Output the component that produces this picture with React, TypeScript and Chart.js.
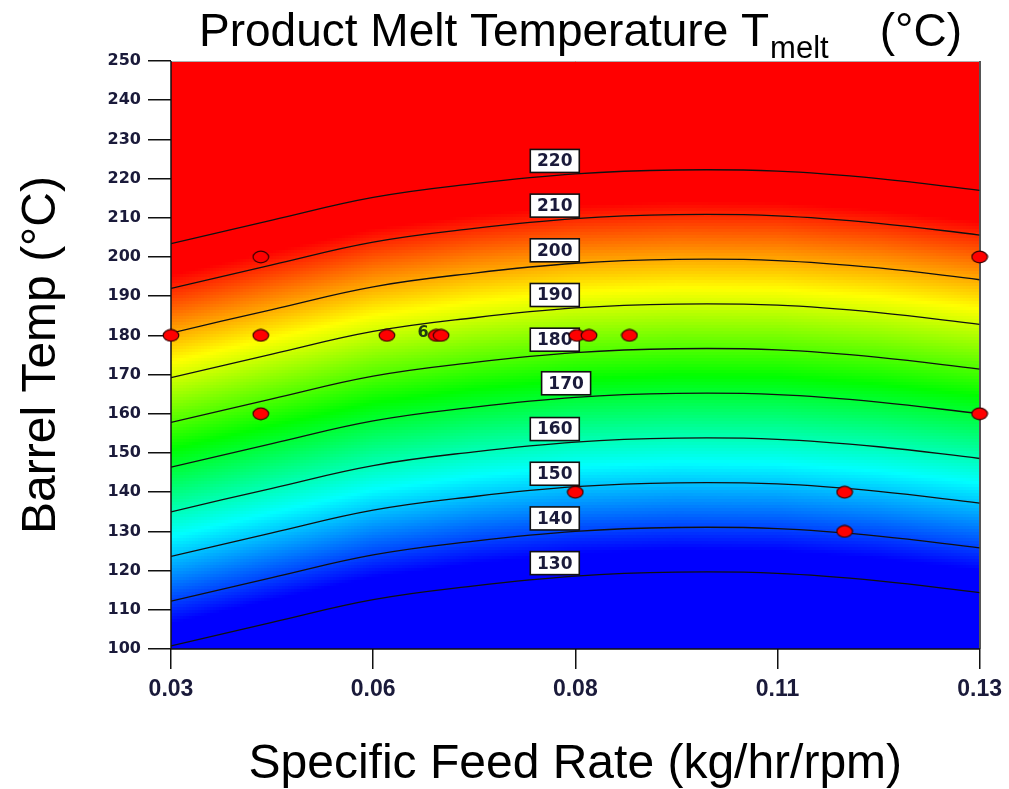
import { useEffect, useRef } from "react";
import { Chart, registerables } from "chart.js";

Chart.register(...registerables);

// Feed rates at which each contour's barrel temperature was taken
const feedRates = [0.03, 0.0425, 0.055, 0.0675, 0.08, 0.0925, 0.105, 0.1175, 0.13];

// Melt temperature contour levels (°C)
const contourLevels = [130, 140, 150, 160, 170, 180, 190, 200, 210, 220];

// Barrel temperature (°C) along each contour, one value per feed rate
const contour130 = [100.8, 106.8, 112.6, 116.1, 118.6, 119.6, 119.3, 117.4, 114.4];
const contour140 = [112.2, 118.2, 124.0, 127.5, 130.0, 131.0, 130.7, 128.8, 125.8];
const contour150 = [123.6, 129.6, 135.4, 138.9, 141.4, 142.4, 142.1, 140.2, 137.2];
const contour160 = [135.0, 141.0, 146.8, 150.3, 152.8, 153.8, 153.5, 151.6, 148.6];
const contour170 = [146.4, 152.4, 158.2, 161.7, 164.2, 165.2, 164.9, 163.0, 160.0];
const contour180 = [157.8, 163.8, 169.6, 173.1, 175.6, 176.6, 176.3, 174.4, 171.4];
const contour190 = [169.2, 175.2, 181.0, 184.5, 187.0, 188.0, 187.7, 185.8, 182.8];
const contour200 = [180.6, 186.6, 192.4, 195.9, 198.4, 199.4, 199.1, 197.2, 194.2];
const contour210 = [192.0, 198.0, 203.8, 207.3, 209.8, 210.8, 210.5, 208.6, 205.6];
const contour220 = [203.4, 209.4, 215.2, 218.7, 221.2, 222.2, 221.9, 220.0, 217.0];
const contourSeries = [
  contour130, contour140, contour150, contour160, contour170,
  contour180, contour190, contour200, contour210, contour220,
];

// Feed rate where each contour label sits
const labelFeed = [0.0774, 0.0774, 0.0774, 0.0774, 0.0788, 0.0774, 0.0774, 0.0774, 0.0774, 0.0774];

// Design points (feed rate, barrel temp)
const runFeed = [0.03, 0.0411, 0.0411, 0.0411, 0.0567, 0.0628, 0.0634, 0.0802, 0.0817, 0.0867, 0.08, 0.1133, 0.1133, 0.13, 0.13];
const runBarrel = [180, 200, 180, 160, 180, 180, 180, 180, 180, 180, 140, 140, 130, 200, 160];
// Replicate count shown beside the centre-point cluster
const replicateLabel = "6";
const replicateIndex = 6;

// Axis ticks
const xTickValues = [0.03, 0.055, 0.08, 0.105, 0.13];
const xTickLabels = ["0.03", "0.06", "0.08", "0.11", "0.13"];

// Colour scale for melt temperature
const colorStopTemps = [135, 154.5, 174, 193.5, 213];
const colorStopRGB = [
  [0, 0, 255],
  [0, 255, 255],
  [0, 255, 0],
  [255, 255, 0],
  [255, 0, 0],
];

const titleMain = "Product Melt Temperature T";
const titleSub = "melt";
const titleUnit = "(°C)";
const xTitle = "Specific Feed Rate (kg/hr/rpm)";
const yTitle = "Barrel Temp (°C)";

const SANS = '"Liberation Sans", Arial, Helvetica, sans-serif';
const TICK_FONT = '"DejaVu Sans", "Liberation Sans", sans-serif';
const INK = "#1a1a3a";

function contourAt(series: number[], x: number): number {
  if (x <= feedRates[0]) return series[0];
  for (let i = 1; i < feedRates.length; i++) {
    if (x <= feedRates[i]) {
      const t = (x - feedRates[i - 1]) / (feedRates[i] - feedRates[i - 1]);
      return series[i - 1] + t * (series[i] - series[i - 1]);
    }
  }
  return series[series.length - 1];
}

function meltFromBarrel(bs: number[], b: number): number {
  const n = bs.length;
  let i = 1;
  if (b <= bs[0]) i = 1;
  else if (b >= bs[n - 1]) i = n - 1;
  else {
    while (i < n - 1 && b > bs[i]) i++;
  }
  const t = (b - bs[i - 1]) / (bs[i] - bs[i - 1]);
  return contourLevels[i - 1] + t * (contourLevels[i] - contourLevels[i - 1]);
}

function colorFor(temp: number): number[] {
  if (temp <= colorStopTemps[0]) return colorStopRGB[0];
  const last = colorStopTemps.length - 1;
  if (temp >= colorStopTemps[last]) return colorStopRGB[last];
  let i = 1;
  while (temp > colorStopTemps[i]) i++;
  const t = (temp - colorStopTemps[i - 1]) / (colorStopTemps[i] - colorStopTemps[i - 1]);
  const a = colorStopRGB[i - 1];
  const c = colorStopRGB[i];
  return [a[0] + t * (c[0] - a[0]), a[1] + t * (c[1] - a[1]), a[2] + t * (c[2] - a[2])];
}

function makeDot(): HTMLCanvasElement {
  const c = document.createElement("canvas");
  c.width = 18;
  c.height = 14;
  const g = c.getContext("2d")!;
  g.beginPath();
  g.ellipse(9, 7, 7.8, 5.8, 0, 0, Math.PI * 2);
  g.fillStyle = "#ff0000";
  g.fill();
  g.lineWidth = 1.2;
  g.strokeStyle = "#3a0000";
  g.stroke();
  return c;
}

// Filled colour surface, plot frame, contour labels and title
const surfacePlugin = {
  id: "meltSurface",
  beforeDatasetsDraw(chart: any) {
    const { ctx, chartArea, scales } = chart;
    const xs = scales.x;
    const ys = scales.y;
    const left = Math.round(chartArea.left);
    const top = Math.round(chartArea.top);
    const w = Math.round(chartArea.right) - left;
    const h = Math.round(chartArea.bottom) - top;
    const off = document.createElement("canvas");
    off.width = w;
    off.height = h;
    const octx = off.getContext("2d")!;
    const img = octx.createImageData(w, h);
    const cell = 3;
    for (let cx = 0; cx < w; cx += cell) {
      const xv = xs.getValueForPixel(left + cx + cell / 2);
      const bs = contourSeries.map((s) => contourAt(s, xv));
      for (let cy = 0; cy < h; cy += cell) {
        const bv = ys.getValueForPixel(top + cy + cell / 2);
        const col = colorFor(meltFromBarrel(bs, bv));
        for (let dx = 0; dx < cell && cx + dx < w; dx++) {
          for (let dy = 0; dy < cell && cy + dy < h; dy++) {
            const k = ((cy + dy) * w + cx + dx) * 4;
            img.data[k] = col[0];
            img.data[k + 1] = col[1];
            img.data[k + 2] = col[2];
            img.data[k + 3] = 255;
          }
        }
      }
    }
    octx.putImageData(img, 0, 0);
    ctx.save();
    ctx.drawImage(off, left, top);
    // frame
    ctx.lineWidth = 1;
    ctx.strokeStyle = "#b0b0b0";
    ctx.beginPath();
    ctx.moveTo(left, top + 0.5);
    ctx.lineTo(left + w, top + 0.5);
    ctx.stroke();
    ctx.lineWidth = 2;
    ctx.strokeStyle = "#555";
    ctx.beginPath();
    ctx.moveTo(left + w, top);
    ctx.lineTo(left + w, top + h);
    ctx.stroke();
    ctx.strokeStyle = "#111";
    ctx.lineWidth = 1.5;
    ctx.beginPath();
    ctx.moveTo(left, top);
    ctx.lineTo(left, top + h);
    ctx.lineTo(left + w, top + h);
    ctx.stroke();
    ctx.restore();
  },
  afterDatasetDraw(chart: any, args: any) {
    // contour labels go on top of the lines but under the design points
    if (args.index !== 1) return;
    const { ctx, scales } = chart;
    ctx.save();
    ctx.font = `bold 17px ${TICK_FONT}`;
    ctx.textAlign = "center";
    ctx.textBaseline = "middle";
    contourLevels.forEach((lvl, i) => {
      const fx = labelFeed[i];
      const px = scales.x.getPixelForValue(fx);
      const py = scales.y.getPixelForValue(contourAt(contourSeries[i], fx));
      const bw = 49;
      const bh = 23;
      const bx = px - bw / 2 + 0.5;
      const by = py - 3.5 - bh;
      ctx.fillStyle = "#fff";
      ctx.fillRect(bx, by, bw, bh);
      ctx.lineWidth = 1.6;
      ctx.strokeStyle = "#111";
      ctx.strokeRect(bx, by, bw, bh);
      ctx.fillStyle = INK;
      ctx.fillText(String(lvl), px + 0.5, by + bh / 2 + 1);
    });
    ctx.restore();
  },
  afterDraw(chart: any) {
    const { ctx, scales } = chart;
    ctx.save();
    // replicate count
    const rx = scales.x.getPixelForValue(runFeed[replicateIndex]);
    const ry = scales.y.getPixelForValue(runBarrel[replicateIndex]);
    ctx.font = `bold 16px ${TICK_FONT}`;
    ctx.textAlign = "center";
    ctx.textBaseline = "middle";
    ctx.fillStyle = "#203c10";
    ctx.fillText(replicateLabel, rx - 18, ry - 3);

    // title with subscript
    ctx.fillStyle = "#000";
    ctx.textAlign = "left";
    ctx.textBaseline = "alphabetic";
    let x = 199;
    ctx.font = `46px ${SANS}`;
    ctx.fillText(titleMain, x, 46);
    x += ctx.measureText(titleMain).width + 1;
    ctx.font = `31px ${SANS}`;
    ctx.fillText(titleSub, x, 58);
    ctx.font = `46px ${SANS}`;
    ctx.textAlign = "right";
    ctx.fillText(titleUnit, 962, 46);
    ctx.restore();
  },
};

export default function App() {
  const ref = useRef<HTMLCanvasElement | null>(null);

  useEffect(() => {
    if (!ref.current) return;
    const dot = makeDot();
    const lineSets = contourLevels.map((lvl, i) => ({
      label: `${lvl}`,
      data: feedRates.map((f, j) => ({ x: f, y: contourSeries[i][j] })),
      showLine: true,
      borderColor: "#111",
      borderWidth: 1.3,
      pointRadius: 0,
      tension: 0.4,
      fill: false,
    }));
    const chart = new Chart(ref.current, {
      type: "scatter",
      data: {
        datasets: [
          {
            label: "runs",
            data: runFeed.map((f, i) => ({ x: f, y: runBarrel[i] })),
            pointStyle: dot as any,
            pointRadius: 7,
            clip: false as any,
          },
          ...lineSets,
        ] as any,
      },
      options: {
        animation: false,
        responsive: false,
        maintainAspectRatio: false,
        layout: { padding: { top: 61, right: 28, left: 0, bottom: 0 } },
        plugins: {
          legend: { display: false },
          tooltip: { enabled: false },
          title: { display: false },
        },
        scales: {
          x: {
            type: "linear",
            min: 0.03,
            max: 0.13,
            afterBuildTicks: (s: any) => {
              s.ticks = xTickValues.map((v) => ({ value: v }));
            },
            afterFit: (s: any) => {
              s.height = 140;
            },
            ticks: {
              autoSkip: false,
              maxRotation: 0,
              padding: 7,
              color: INK,
              font: { family: '"Liberation Sans Narrow", "Liberation Sans", Arial, sans-serif', size: 23, weight: "bold" },
              callback: (_v: any, i: number) => xTickLabels[i],
            },
            grid: {
              drawOnChartArea: false,
              drawTicks: true,
              tickLength: 20,
              color: "#111",
              lineWidth: 1.5,
            },
            border: { display: false },
            title: {
              display: true,
              text: xTitle,
              color: "#000",
              font: { family: SANS, size: 48, lineHeight: 1 },
              padding: { top: 0, bottom: 0 },
            },
          },
          y: {
            type: "linear",
            min: 100,
            max: 250,
            afterFit: (s: any) => {
              s.width = 171;
            },
            ticks: {
              stepSize: 10,
              padding: 7,
              color: INK,
              font: { family: TICK_FONT, size: 16, weight: "bold" },
            },
            grid: {
              drawOnChartArea: false,
              drawTicks: true,
              tickLength: 23,
              color: "#111",
              lineWidth: 1.5,
            },
            border: { display: false },
            title: {
              display: true,
              text: yTitle,
              color: "#000",
              font: { family: SANS, size: 48, lineHeight: 1 },
              padding: { top: 18, bottom: 0 },
            },
          },
        },
      } as any,
      plugins: [surfacePlugin],
    });
    return () => chart.destroy();
  }, []);

  return (
    <div style={{ position: "absolute", left: 0, top: 0, width: 1009, height: 789, background: "#fff" }}>
      <canvas ref={ref} width={1009} height={789} style={{ display: "block" }} />
    </div>
  );
}
